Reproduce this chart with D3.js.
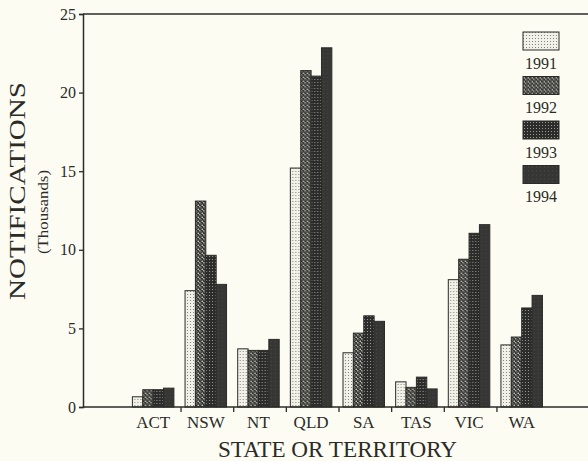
<!DOCTYPE html>
<html>
<head>
<meta charset="utf-8">
<script src="https://cdn.jsdelivr.net/npm/d3@7"></script>
<style>
  body { margin: 0; background: #fcfcf3; }
  svg { display: block; font-family: "Liberation Serif", "DejaVu Serif", serif; }
</style>
</head>
<body>
<svg id="chart" width="588" height="461"></svg>
<script>
// notifications (thousands) by state
var states = ['ACT', 'NSW', 'NT', 'QLD', 'SA', 'TAS', 'VIC', 'WA'];
var years = ['1991', '1992', '1993', '1994'];
var v1991 = [0.65, 7.4, 3.7, 15.2, 3.45, 1.6, 8.1, 3.95];
var v1992 = [1.1, 13.1, 3.6, 21.4, 4.7, 1.25, 9.4, 4.45];
var v1993 = [1.1, 9.65, 3.6, 21.05, 5.8, 1.9, 11.05, 6.3];
var v1994 = [1.2, 7.8, 4.3, 22.85, 5.45, 1.15, 11.6, 7.1];
var yTicks = [0, 5, 10, 15, 20, 25];

var svg = d3.select('#chart');

// fill patterns, one per year
var defs = svg.append('defs');
function pattern(id, size, base) {
  var p = defs.append('pattern').attr('id', id)
    .attr('patternUnits', 'userSpaceOnUse')
    .attr('width', size).attr('height', size);
  p.append('rect').attr('width', size).attr('height', size).attr('fill', base);
  return p;
}
var p1 = pattern('p1991', 3, '#f1f1e8');
p1.append('rect').attr('x', 0).attr('y', 0).attr('width', 1).attr('height', 1).attr('fill', '#85857f');
var p2 = pattern('p1992', 4, '#2f2f2d');
p2.append('path').attr('d', 'M-1,-1 L5,5 M-1,3 L1,5 M3,-1 L5,1')
  .attr('stroke', '#e4e4dc').attr('stroke-width', 1.3).attr('stroke-dasharray', '1.4,1');
var p3 = pattern('p1993', 3, '#2c2c2a');
p3.append('rect').attr('x', 1).attr('y', 1).attr('width', 1).attr('height', 1).attr('fill', '#9a9a94');
var p4 = pattern('p1994', 4, '#363634');
p4.append('rect').attr('x', 1).attr('y', 1).attr('width', 1).attr('height', 1).attr('fill', '#4a4a47');

var series = [v1991, v1992, v1993, v1994];
var rows = states.map(function(s, i) {
  var r = { state: s };
  years.forEach(function(yr, j) { r[yr] = series[j][i]; });
  return r;
});

var axisX = 83, plotTop = 14, plotBottom = 407;
var y = d3.scaleLinear().domain([0, 25]).range([plotBottom, plotTop]);
var x = d3.scaleBand().domain(states).range([128.4, 549.6]);
var xInner = d3.scaleBand().domain(years).range([4, 45.5]);

var ink = '#2b2b28';

// frame: top rule runs to the right edge
svg.append('line').attr('x1', axisX).attr('x2', 588).attr('y1', plotTop).attr('y2', plotTop)
  .attr('stroke', ink).attr('stroke-width', 1.5);

// bars
var groups = svg.append('g').selectAll('g').data(rows).join('g')
  .attr('transform', function(d) { return 'translate(' + x(d.state) + ',0)'; });
groups.selectAll('rect')
  .data(function(d) { return years.map(function(yr) { return { year: yr, value: d[yr] }; }); })
  .join('rect')
  .attr('x', function(d) { return xInner(d.year); })
  .attr('y', function(d) { return y(d.value); })
  .attr('width', xInner.bandwidth())
  .attr('height', function(d) { return plotBottom - y(d.value); })
  .attr('fill', function(d) { return 'url(#p' + d.year + ')'; })
  .attr('stroke', ink).attr('stroke-width', 1);

// y axis
var yAxis = d3.axisLeft(y).tickValues(yTicks).tickSize(4).tickPadding(3);
var gy = svg.append('g').attr('transform', 'translate(' + axisX + ',0)').call(yAxis);
gy.select('.domain').attr('stroke', ink).attr('stroke-width', 1.5);
gy.selectAll('.tick line').attr('stroke', ink).attr('stroke-width', 1.3);
gy.selectAll('.tick text').attr('fill', ink).style('font-size', '16px')
  .style('font-family', '"Liberation Serif", serif');

// x axis line and separators between states
svg.append('line').attr('x1', axisX).attr('x2', 588).attr('y1', plotBottom).attr('y2', plotBottom)
  .attr('stroke', ink).attr('stroke-width', 1.5);
svg.append('g').selectAll('line').data(states.slice(1)).join('line')
  .attr('x1', function(d) { return x(d); }).attr('x2', function(d) { return x(d); })
  .attr('y1', plotBottom).attr('y2', plotBottom + 5)
  .attr('stroke', ink).attr('stroke-width', 1.3);
svg.append('g').selectAll('text').data(states).join('text')
  .attr('x', function(d) { return x(d) + (xInner.range()[0] + xInner.range()[1]) / 2; })
  .attr('y', 428)
  .attr('text-anchor', 'middle')
  .attr('fill', ink).style('font-size', '17px')
  .text(function(d) { return d; });

// axis titles
svg.append('text').attr('x', 337.5).attr('y', 457).attr('text-anchor', 'middle')
  .attr('fill', ink).style('font-size', '24px')
  .attr('textLength', 239).attr('lengthAdjust', 'spacingAndGlyphs')
  .text('STATE OR TERRITORY');
svg.append('text').attr('transform', 'translate(25,191) rotate(-90)').attr('text-anchor', 'middle')
  .attr('fill', ink).style('font-size', '24px')
  .attr('textLength', 218).attr('lengthAdjust', 'spacingAndGlyphs')
  .text('NOTIFICATIONS');
svg.append('text').attr('transform', 'translate(48,212) rotate(-90)').attr('text-anchor', 'middle')
  .attr('fill', ink).style('font-size', '15px')
  .attr('textLength', 84).attr('lengthAdjust', 'spacingAndGlyphs')
  .text('(Thousands)');

// legend
var legend = svg.append('g').selectAll('g').data(years).join('g')
  .attr('transform', function(d, i) { return 'translate(523,' + (32 + i * 44.5) + ')'; });
legend.append('rect').attr('width', 36).attr('height', 18)
  .attr('fill', function(d) { return 'url(#p' + d + ')'; })
  .attr('stroke', ink).attr('stroke-width', 1);
legend.append('text').attr('x', 18).attr('y', 36.5).attr('text-anchor', 'middle')
  .attr('fill', ink).style('font-size', '16px')
  .text(function(d) { return d; });
</script>
</body>
</html>
